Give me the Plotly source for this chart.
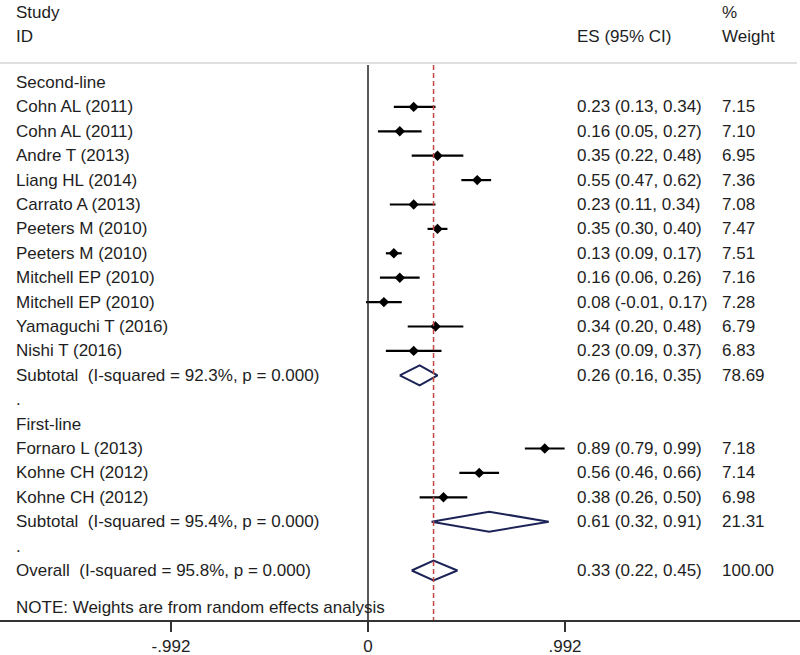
import plotly.graph_objects as go

# ---- data ----
second_studies = ["Cohn AL (2011)", "Cohn AL (2011)", "Andre T (2013)", "Liang HL (2014)",
                  "Carrato A (2013)", "Peeters M (2010)", "Peeters M (2010)",
                  "Mitchell EP (2010)", "Mitchell EP (2010)", "Yamaguchi T (2016)", "Nishi T (2016)"]
second_es = [0.23, 0.16, 0.35, 0.55, 0.23, 0.35, 0.13, 0.16, 0.08, 0.34, 0.23]
second_lo = [0.13, 0.05, 0.22, 0.47, 0.11, 0.30, 0.09, 0.06, -0.01, 0.20, 0.09]
second_hi = [0.34, 0.27, 0.48, 0.62, 0.34, 0.40, 0.17, 0.26, 0.17, 0.48, 0.37]
second_w = ["7.15", "7.10", "6.95", "7.36", "7.08", "7.47", "7.51", "7.16", "7.28", "6.79", "6.83"]

first_studies = ["Fornaro L (2013)", "Kohne CH (2012)", "Kohne CH (2012)"]
first_es = [0.89, 0.56, 0.38]
first_lo = [0.79, 0.46, 0.26]
first_hi = [0.99, 0.66, 0.50]
first_w = ["7.18", "7.14", "6.98"]

sub_labels = ["Subtotal  (I-squared = 92.3%, p = 0.000)", "Subtotal  (I-squared = 95.4%, p = 0.000)"]
sub_es = [0.26, 0.61]
sub_lo = [0.16, 0.32]
sub_hi = [0.35, 0.91]
sub_w = ["78.69", "21.31"]

overall_label = "Overall  (I-squared = 95.8%, p = 0.000)"
overall_es, overall_lo, overall_hi, overall_w = 0.33, 0.22, 0.45, "100.00"
note_text = "NOTE: Weights are from random effects analysis"

tick_vals = [-0.992, 0, 0.992]
tick_text = ["-.992", "0", ".992"]

# ---- build row layout ----
rows = []  # (label, es, lo, hi, weight, kind)
rows.append(("Second-line", None, None, None, None, "header"))
for s, e, l, h, w in zip(second_studies, second_es, second_lo, second_hi, second_w):
    rows.append((s, e, l, h, w, "study"))
rows.append((sub_labels[0], sub_es[0], sub_lo[0], sub_hi[0], sub_w[0], "diamond"))
rows.append((".", None, None, None, None, "blank"))
rows.append(("First-line", None, None, None, None, "header"))
for s, e, l, h, w in zip(first_studies, first_es, first_lo, first_hi, first_w):
    rows.append((s, e, l, h, w, "study"))
rows.append((sub_labels[1], sub_es[1], sub_lo[1], sub_hi[1], sub_w[1], "diamond"))
rows.append((".", None, None, None, None, "blank"))
rows.append((overall_label, overall_es, overall_lo, overall_hi, overall_w, "diamond"))

W, H = 800, 655
FONT = "Arial, Liberation Sans, sans-serif"
FS = 17
TXT = "#1e1e1e"

ROW0 = 82.5      # pixel of first row
ROWH = 24.4      # row spacing in px
ZERO_X = 368     # pixel of x = 0
PXU = 198.6      # px per unit
AXIS_Y = 620     # pixel of x-axis line


def row_of(py):
    # pixel (y) -> row units
    return (py - ROW0) / ROWH


fig = go.Figure()

# study points with CI
sx, sy, sp, sm = [], [], [], []
for i, r in enumerate(rows):
    if r[5] == "study":
        sx.append(r[1]); sy.append(i)
        sp.append(r[3] - r[1]); sm.append(r[1] - r[2])
fig.add_trace(go.Scatter(
    x=sx, y=sy, mode="markers",
    marker=dict(symbol="diamond", size=8, color="black"),
    error_x=dict(type="data", array=sp, arrayminus=sm, width=0, thickness=2.2, color="black"),
    showlegend=False, hoverinfo="skip"))

# diamonds
hh = 0.41
for i, r in enumerate(rows):
    if r[5] == "diamond":
        fig.add_trace(go.Scatter(
            x=[r[2], r[1], r[3], r[1], r[2]],
            y=[i, i - hh, i, i + hh, i],
            mode="lines", line=dict(color="#1c2457", width=2),
            showlegend=False, hoverinfo="skip"))

y_top = row_of(0)
y_bot = row_of(AXIS_Y)
x_left = -ZERO_X / PXU
x_right = (W - ZERO_X) / PXU
line_top = row_of(65)

# zero line
fig.add_shape(type="line", x0=0, x1=0, y0=line_top, y1=y_bot, xref="x", yref="y",
              line=dict(color="#222222", width=1.5))
# overall effect dashed line
fig.add_shape(type="line", x0=overall_es, x1=overall_es, y0=line_top, y1=y_bot, xref="x", yref="y",
              line=dict(color="#c4473e", width=1.5, dash="5px,3px"))
# header separator
fig.add_shape(type="line", x0=0, x1=797 / W, y0=row_of(63), y1=row_of(63),
              xref="paper", yref="y", line=dict(color="#d4d4d4", width=1.5))


def ann(x_px, y, text):
    fig.add_annotation(x=x_px / W, xref="paper", y=y, yref="y", text=text, showarrow=False,
                       xanchor="left", yanchor="middle", font=dict(family=FONT, size=FS, color=TXT))


# column headers
ann(14, row_of(12.5), "Study")
ann(14, row_of(36), "ID")
ann(575, row_of(36), "ES (95% CI)")
ann(720, row_of(12.5), "%")
ann(720, row_of(36), "Weight")

for i, r in enumerate(rows):
    ann(14, i, r[0])
    if r[1] is not None:
        ann(575, i, f"{r[1]:.2f} ({r[2]:.2f}, {r[3]:.2f})")
        ann(720, i, r[4])
ann(14, row_of(607), note_text)

fig.update_xaxes(range=[x_left, x_right], showgrid=False, zeroline=False, showline=True,
                 linecolor="#333333", linewidth=2, ticks="outside", ticklen=10, tickwidth=1.5,
                 tickcolor="#333333", tickvals=tick_vals, ticktext=tick_text,
                 tickfont=dict(family=FONT, size=FS, color=TXT))
fig.update_yaxes(range=[y_bot, y_top], visible=False, showgrid=False, zeroline=False)
fig.update_layout(width=W, height=H, margin=dict(l=0, r=0, t=0, b=H - AXIS_Y),
                  plot_bgcolor="white", paper_bgcolor="white", showlegend=False)

# remove the page's default body margin so the figure fills the window exactly
fig.write_html("out.html", config={"displayModeBar": False, "staticPlot": True},
               post_script="document.body.style.margin='0';document.body.style.overflow='hidden';")
